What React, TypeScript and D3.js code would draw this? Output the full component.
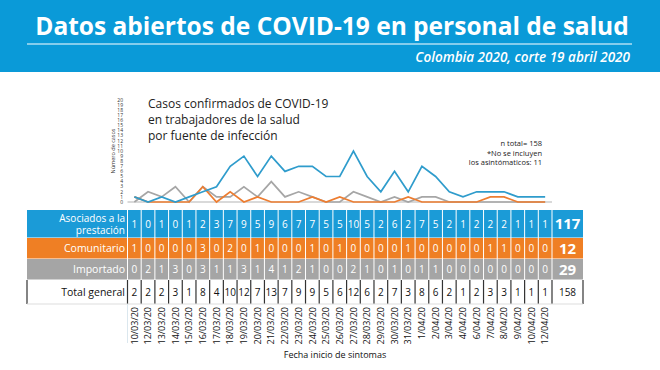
import React from 'react';
import * as d3 from 'd3';

const dates = [
  '10/03/20', '12/03/20', '13/03/20', '14/03/20', '15/03/20', '16/03/20', '17/03/20', '18/03/20',
  '19/03/20', '20/03/20', '21/03/20', '22/03/20', '23/03/20', '24/03/20', '25/03/20', '26/03/20',
  '27/03/20', '28/03/20', '29/03/20', '30/03/20', '31/03/20', '1/04/20', '2/04/20', '3/04/20',
  '4/04/20', '6/04/20', '7/04/20', '8/04/20', '9/04/20', '10/04/20', '12/04/20',
];
const asociados = [1, 0, 1, 0, 1, 2, 3, 7, 9, 5, 9, 6, 7, 7, 5, 5, 10, 5, 2, 6, 2, 7, 5, 2, 1, 2, 2, 2, 1, 1, 1];
const comunitario = [1, 0, 0, 0, 0, 3, 0, 2, 0, 1, 0, 0, 0, 1, 0, 1, 0, 0, 0, 0, 1, 0, 0, 0, 0, 0, 1, 1, 0, 0, 0];
const importado = [0, 2, 1, 3, 0, 3, 1, 1, 3, 1, 4, 1, 2, 1, 0, 0, 2, 1, 0, 1, 0, 1, 1, 0, 0, 0, 0, 0, 0, 0, 0];
const totalGeneral = [2, 2, 2, 3, 1, 8, 4, 10, 12, 7, 13, 7, 9, 9, 5, 6, 12, 6, 2, 7, 3, 8, 6, 2, 1, 2, 3, 3, 1, 1, 1];
const rowTotals = [117, 12, 29, 158];
const rowNames = [['Asociados a la', 'prestación'], ['Comunitario'], ['Importado'], ['Total general']];
const yTicks = d3.range(0, 21);

const BLUE = '#1b9bd7';
const ORANGE = '#ef7f24';
const GRAY = '#a5a5a5';
const FONT = "'Open Sans', 'Noto Sans', sans-serif";

export default function App() {
  const W = 660;
  const H = 370;
  const x = d3.scaleBand<string>().domain(dates).range([127.5, 552]).paddingInner(0);
  const bw = x.bandwidth();
  const y = d3.scaleLinear().domain([0, 20]).range([202, 100]);
  const cx = (i: number) => (x(dates[i]) as number) + bw / 2;
  const line = d3.line<number>().x((_, i) => cx(i)).y((d) => y(d));

  const tableX0 = 27;
  const totX0 = 552;
  const totX1 = 583;
  const rows = [
    { vals: asociados, fill: BLUE, y0: 210, y1: 238 },
    { vals: comunitario, fill: ORANGE, y0: 238, y1: 259 },
    { vals: importado, fill: GRAY, y0: 259, y1: 280 },
    { vals: totalGeneral, fill: '#ffffff', y0: 280, y1: 304 },
  ];

  return (
    <svg width={W} height={H} style={{ position: 'absolute', left: 0, top: 0, background: '#fff' }} fontFamily={FONT}>
      {/* header */}
      <rect x={0} y={0} width={W} height={72} fill="#0a9ad8" />
      <text x={332} y={35} textAnchor="middle" fill="#fff" fontSize={24.5} fontWeight={700}>
        Datos abiertos de COVID-19 en personal de salud
      </text>
      <line x1={27} x2={632} y1={44} y2={44} stroke="#fff" strokeWidth={1.2} />
      <text x={630} y={62} textAnchor="end" fill="#fff" fontSize={13.5} fontStyle="italic" fontWeight={600}>
        Colombia 2020, corte 19 abril 2020
      </text>

      {/* chart title */}
      <g fill="#222" fontSize={12}>
        <text x={148} y={108}>Casos confirmados de COVID-19</text>
        <text x={148} y={124}>en trabajadores de la salud</text>
        <text x={148} y={140}>por fuente de infección</text>
      </g>
      <g fill="#222" fontSize={7.5} textAnchor="end">
        <text x={542} y={146}>n total= 158</text>
        <text x={542} y={155.5}>*No se incluyen</text>
        <text x={542} y={165}>los asintómaticos: 11</text>
      </g>

      {/* y axis */}
      <g fill="#333" fontSize={5} textAnchor="end">
        {yTicks.map((t) => (
          <text key={t} x={123} y={y(t) + 1.7}>{t}</text>
        ))}
      </g>
      <text transform={`translate(115,${y(10)}) rotate(-90)`} textAnchor="middle" fontSize={5.5} fill="#333">
        Número de casos
      </text>
      <line x1={127.5} x2={552} y1={y(0)} y2={y(0)} stroke="#d9d9d9" strokeWidth={2} />

      {/* lines */}
      <path d={line(importado) as string} fill="none" stroke="#a6a6a6" strokeWidth={1.7} />
      <path d={line(comunitario) as string} fill="none" stroke="#ed7d31" strokeWidth={1.7} />
      <path d={line(asociados) as string} fill="none" stroke="#2f9ccc" strokeWidth={1.7} />

      {/* table */}
      {rows.map((r, ri) => {
        const isTotal = ri === 3;
        const midY = (r.y0 + r.y1) / 2;
        const txtFill = isTotal ? '#111' : '#fff';
        return (
          <g key={ri}>
            {!isTotal && <rect x={tableX0} y={r.y0} width={totX1 - tableX0} height={r.y1 - r.y0} fill={r.fill} />}
            {rowNames[ri].length === 2 ? (
              <g fill={txtFill} fontSize={10} textAnchor="end">
                <text x={125} y={midY - 2.5}>{rowNames[ri][0]}</text>
                <text x={125} y={midY + 10}>{rowNames[ri][1]}</text>
              </g>
            ) : (
              <text x={125} y={midY + 3.8} fill={txtFill} fontSize={10.5} textAnchor="end">{rowNames[ri][0]}</text>
            )}
            {r.vals.map((v, i) => (
              <text key={i} x={cx(i)} y={midY + 3.6} fill={txtFill} fontSize={10} textAnchor="middle">{v}</text>
            ))}
            <text x={(totX0 + totX1) / 2} y={midY + (isTotal ? 3.6 : 5)} fill={txtFill}
              fontSize={isTotal ? 10 : 15} fontWeight={isTotal ? 400 : 700} textAnchor="middle">
              {rowTotals[ri]}
            </text>
            {d3.range(dates.length + 1).map((i) => {
              const xx = i < dates.length ? (x(dates[i]) as number) : totX0;
              return (
                <line key={i} x1={xx} x2={xx} y1={r.y0} y2={r.y1}
                  stroke={isTotal ? '#333' : '#fff'} strokeWidth={isTotal ? 1.2 : 1} />
              );
            })}
            {isTotal && (
              <>
                <line x1={tableX0} x2={tableX0} y1={r.y0} y2={r.y1} stroke="#333" strokeWidth={1.2} />
                <line x1={totX1} x2={totX1} y1={r.y0} y2={r.y1} stroke="#333" strokeWidth={1.2} />
                <line x1={tableX0} x2={totX1} y1={r.y1} y2={r.y1} stroke="#ddd" strokeWidth={1} />
              </>
            )}
            {!isTotal && <line x1={tableX0} x2={totX1} y1={r.y1} y2={r.y1} stroke="#fff" strokeWidth={1} />}
          </g>
        );
      })}

      {/* date labels */}
      <line x1={127.5} x2={127.5} y1={304} y2={343} stroke="#dbe7ee" strokeWidth={1} />
      <g fontSize={9} fill="#111" textAnchor="end">
        {dates.map((d, i) => (
          <text key={d} transform={`translate(${cx(i) + 3.2},${307}) rotate(-90)`}>{d}</text>
        ))}
      </g>
      <text x={335} y={358} textAnchor="middle" fontSize={9} fill="#111">Fecha inicio de sintomas</text>
    </svg>
  );
}
